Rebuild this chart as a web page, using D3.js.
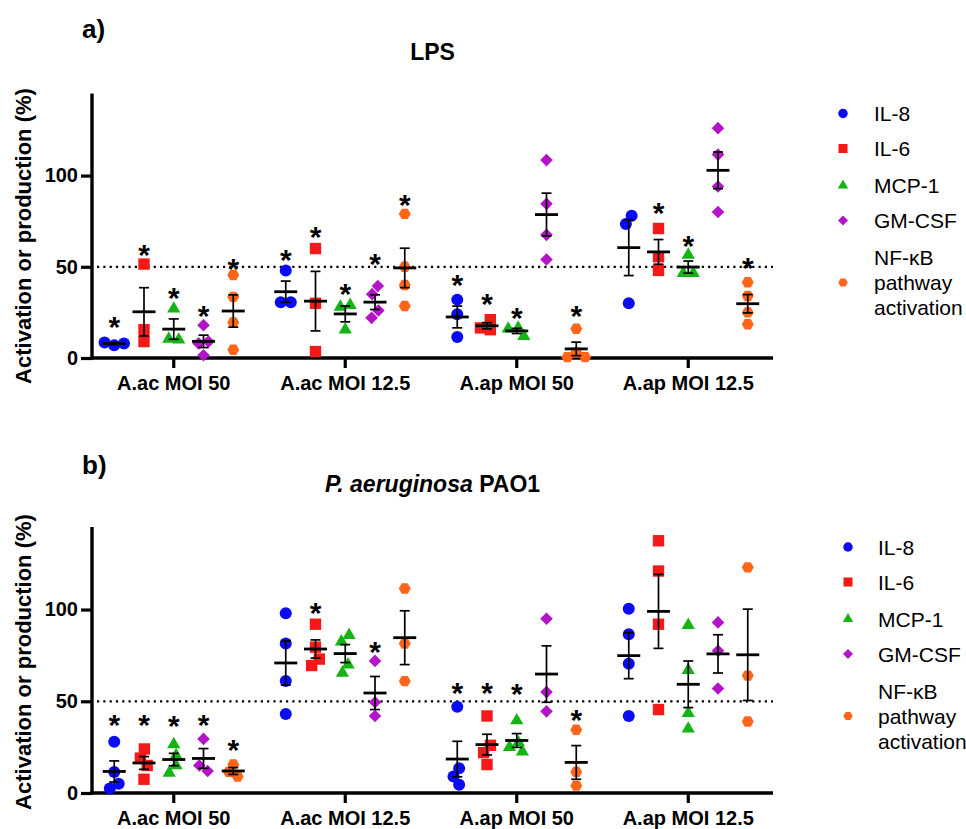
<!DOCTYPE html>
<html><head><meta charset="utf-8">
<script src="https://cdn.jsdelivr.net/npm/d3@7"></script>
<style>
body{margin:0;background:#fff}
svg{display:block}
text{font-family:"Liberation Sans",Arial,sans-serif;fill:#000}
</style>
</head><body>
<svg id="chart" width="966" height="829"></svg>
<script>
// ---------- data ----------
const groups = ["A.ac MOI 50", "A.ac MOI 12.5", "A.ap MOI 50", "A.ap MOI 12.5"];
const series = ["IL-8", "IL-6", "MCP-1", "GM-CSF", "NF-κB pathway activation"];
const yTicks = [0, 50, 100];
const yMax = 145;
const refLine = 50;

// panel a) LPS : values per series, per group
const lpsIL8   = [[7, 8.5, 8], [48, 30.5, 30.5], [32, 24, 11.5], [78, 73.5, 30]];
const lpsIL6   = [[51.5, 15.5, 9], [60, 30, 3.5], [21, 15.5, 16.5], [71, 55.5, 48]];
const lpsMCP1  = [[27, 10, 10.5], [29, 28, 15.5], [16.5, 16, 12], [56.5, 46.5, 46.5]];
const lpsGMCSF = [[18, 9, 8, 1.5], [39.5, 35, 26, 22], [108.5, 84.5, 67.5, 54], [126, 111.5, 94, 80]];
const lpsNFkB  = [[45.5, 33.5, 19.5, 4.5], [79, 50, 40, 28.5], [16, 3, 0.5, 0.5], [41.5, 34, 25, 18.5]];
// significance star levels (null = no star)
const lpsStarIL8   = [20.8, 57.5, 43.7, null];
const lpsStarIL6   = [60.4, 70, 33.3, 83.2];
const lpsStarMCP1  = [36.7, 39.1, 25.9, 65.2];
const lpsStarGMCSF = [26.7, 55.6, null, null];
const lpsStarNFkB  = [52.9, 87.8, 26.7, 53.4];

// panel b) P. aeruginosa PAO1
const paoIL8   = [[28, 11.5, 5, 2.5], [98, 81.5, 61, 43], [47, 13.5, 9, 4.5], [100.5, 86.5, 70.5, 42]];
const paoIL6   = [[24, 19, 15, 7.5], [92, 79.5, 73, 69.5], [42, 26, 22, 15.5], [137.5, 121, 92, 45.5]];
const paoMCP1  = [[26.5, 20.5, 15, 11], [86, 82.5, 70, 65.5], [39.5, 27.5, 25, 22.5], [91.5, 67, 43.5, 35]];
const paoGMCSF = [[29.5, 12, 15], [72, 49.5, 42], [95, 55, 44.5], [93, 77.5, 57]];
const paoNFkB  = [[15.5, 9, 11.5], [111.5, 81.5, 61], [34.5, 11.5, 4], [123, 64, 39]];
const paoStarIL8   = [40.7, null, 58.4, null];
const paoStarIL6   = [40.7, 101.8, 58.4, null];
const paoStarMCP1  = [40.2, null, 58, null];
const paoStarGMCSF = [40.7, 80.5, null, null];
const paoStarNFkB  = [27.4, null, 43.8, null];

// ---------- styles ----------
const colors = ["#0a0af5", "#f51a1a", "#14b414", "#b414c8", "#ff6619"];
const shapes = ["circle", "square", "triangle", "diamond", "hexagon"];

const panels = [
  { tag: "a)", title: [{t: "LPS", italic: false}],
    values: [lpsIL8, lpsIL6, lpsMCP1, lpsGMCSF, lpsNFkB],
    stars: [lpsStarIL8, lpsStarIL6, lpsStarMCP1, lpsStarGMCSF, lpsStarNFkB],
    top: 93.5, bottom: 358, tagY: 38, titleY: 60, ytitleY: 236, legSymX: 843, legTextX: 874 },
  { tag: "b)", title: [{t: "P. aeruginosa", italic: true}, {t: " PAO1", italic: false}],
    values: [paoIL8, paoIL6, paoMCP1, paoGMCSF, paoNFkB],
    stars: [paoStarIL8, paoStarIL6, paoStarMCP1, paoStarGMCSF, paoStarNFkB],
    top: 527, bottom: 793, tagY: 474, titleY: 492, ytitleY: 662, legSymX: 848, legTextX: 878 }
];

const svg = d3.select("#chart");
const axisX = 92, axisEnd = 773;

function shapePath(kind, s) {
  const r = s / 2;
  switch (kind) {
    case "circle": return d3.symbol(d3.symbolCircle, Math.PI * r * r)();
    case "square": { const h = r * 0.95; return `M${-h},${-h}H${h}V${h}H${-h}Z`; }
    case "triangle": { const w = s * 1.1, h = w * 0.866; return `M0,${-2*h/3}L${w/2},${h/3}L${-w/2},${h/3}Z`; }
    case "diamond": { const h = r * 1.05; return `M0,${-h}L${h},0L0,${h}L${-h},0Z`; }
    case "hexagon": { const q = r * 1.0, v = q * 0.866;
      return `M${-q},0L${-q/2},${-v}L${q/2},${-v}L${q},0L${q/2},${v}L${-q/2},${v}Z`; }
  }
}

// horizontal spreading of overlapping points (scatter dodge)
function swarm(vals, y, D) {
  const placed = [];
  vals.forEach(v => {
    const py = y(v);
    const cands = [0];
    placed.forEach(p => {
      const dy = Math.abs(p.y - py);
      if (dy < D) { const dx = Math.sqrt(D * D - dy * dy); cands.push(p.x - dx, p.x + dx); }
    });
    cands.sort((a, b) => (Math.abs(a) - Math.abs(b)) || (a - b));
    const cx = cands.find(c => placed.every(p => (p.x - c) ** 2 + (p.y - py) ** 2 >= D * D - 0.01));
    placed.push({ x: cx, y: py, v });
  });
  // recentre connected clusters
  const n = placed.length, parent = d3.range(n);
  const find = i => parent[i] === i ? i : (parent[i] = find(parent[i]));
  for (let i = 0; i < n; i++) for (let j = i + 1; j < n; j++) {
    const a = placed[i], b = placed[j];
    if (Math.hypot(a.x - b.x, a.y - b.y) <= D + 0.5) parent[find(i)] = find(j);
  }
  const comp = d3.group(d3.range(n), i => find(i));
  comp.forEach(idx => {
    if (idx.length > 1) {
      const m = d3.mean(idx, i => placed[i].x);
      idx.forEach(i => placed[i].x -= m);
    }
  });
  return placed;
}

const x = d3.scaleBand().domain(groups).range([88, 774]).paddingInner(0).paddingOuter(0);
const sx = d3.scalePoint().domain(series).range([-59.5, 59.5]);

panels.forEach(P => {
  const y = d3.scaleLinear().domain([0, yMax]).range([P.bottom, P.top]);
  const g = svg.append("g");

  // tag and title
  g.append("text").attr("x", 82).attr("y", P.tagY).attr("font-size", 26).attr("font-weight", "bold").text(P.tag);
  const tt = g.append("text").attr("x", (axisX + axisEnd) / 2).attr("y", P.titleY)
    .attr("text-anchor", "middle").attr("font-size", 23).attr("font-weight", "bold");
  P.title.forEach(p => tt.append("tspan").attr("font-style", p.italic ? "italic" : "normal").text(p.t));

  // y title
  g.append("text").attr("transform", `translate(31,${P.ytitleY}) rotate(-90)`)
    .attr("text-anchor", "middle").attr("font-size", 22).attr("font-weight", "bold")
    .text("Activation or production (%)");

  // y axis
  const ya = g.append("g").attr("transform", `translate(${axisX},0)`)
    .call(d3.axisLeft(y).tickValues(yTicks).tickSize(11).tickPadding(3).tickFormat(d3.format("d")));
  ya.select(".domain").remove();
  ya.selectAll(".tick line").attr("stroke", "#000").attr("stroke-width", 3.2);
  ya.selectAll(".tick text").attr("font-size", 20).attr("font-weight", "bold")
    .attr("font-family", "Liberation Sans, Arial, sans-serif").attr("fill", "#000");

  // x axis
  const xa = g.append("g").attr("transform", `translate(0,${P.bottom})`)
    .call(d3.axisBottom(x).tickSize(10).tickPadding(8));
  xa.select(".domain").remove();
  xa.selectAll(".tick line").attr("stroke", "#000").attr("stroke-width", 3.2);
  xa.selectAll(".tick text").attr("font-size", 20).attr("font-weight", "bold")
    .attr("font-family", "Liberation Sans, Arial, sans-serif").attr("fill", "#000");

  // axis lines
  g.append("line").attr("x1", axisX).attr("x2", axisX).attr("y1", P.top).attr("y2", P.bottom + 1.6)
    .attr("stroke", "#000").attr("stroke-width", 3.4);
  g.append("line").attr("x1", axisX - 1.7).attr("x2", axisEnd).attr("y1", P.bottom).attr("y2", P.bottom)
    .attr("stroke", "#000").attr("stroke-width", 3.4);

  // reference dotted line
  g.append("line").attr("x1", axisX + 5).attr("x2", axisEnd).attr("y1", y(refLine)).attr("y2", y(refLine))
    .attr("stroke", "#000").attr("stroke-width", 2.2).attr("stroke-dasharray", "2.2 4.1");

  // data
  series.forEach((s, si) => {
    groups.forEach((gr, gi) => {
      const vals = P.values[si][gi];
      const cx = x(gr) + x.bandwidth() / 2 + sx(s);
      const pts = swarm(vals, y, 10);
      g.append("g").selectAll("path").data(pts).join("path")
        .attr("d", shapePath(shapes[si], 12))
        .attr("transform", d => `translate(${cx + d.x},${d.y})`)
        .attr("fill", colors[si]);
      const m = d3.mean(vals), sem = d3.deviation(vals) / Math.sqrt(vals.length);
      const eb = g.append("g").attr("stroke", "#000").attr("fill", "none");
      eb.append("line").attr("x1", cx).attr("x2", cx).attr("y1", y(m - sem)).attr("y2", y(m + sem)).attr("stroke-width", 1.7);
      [m - sem, m + sem].forEach(v => eb.append("line").attr("x1", cx - 5).attr("x2", cx + 5)
        .attr("y1", y(v)).attr("y2", y(v)).attr("stroke-width", 1.7));
      eb.append("line").attr("x1", cx - 11.5).attr("x2", cx + 11.5).attr("y1", y(m)).attr("y2", y(m)).attr("stroke-width", 2.8);
      const st = P.stars[si][gi];
      if (st !== null) {
        g.append("text").attr("x", cx).attr("y", y(st) + 17).attr("text-anchor", "middle")
          .attr("font-size", 30).attr("font-weight", "bold").text("*");
      }
    });
  });

  // legend
  const legRows = [20, 55, 92, 127, 189];
  const leg = g.append("g");
  series.forEach((s, si) => {
    const cy = P.top + legRows[si];
    leg.append("path").attr("d", shapePath(shapes[si], 9.5)).attr("transform", `translate(${P.legSymX},${cy})`)
      .attr("fill", colors[si]);
    const lines = si === 4 ? ["NF-κB", "pathway", "activation"] : [s];
    lines.forEach((ln, li) => {
      leg.append("text").attr("x", P.legTextX)
        .attr("y", cy + 7.5 + (li - (lines.length - 1) / 2) * 25)
        .attr("font-size", 21).text(ln);
    });
  });
});
</script>
</body></html>
